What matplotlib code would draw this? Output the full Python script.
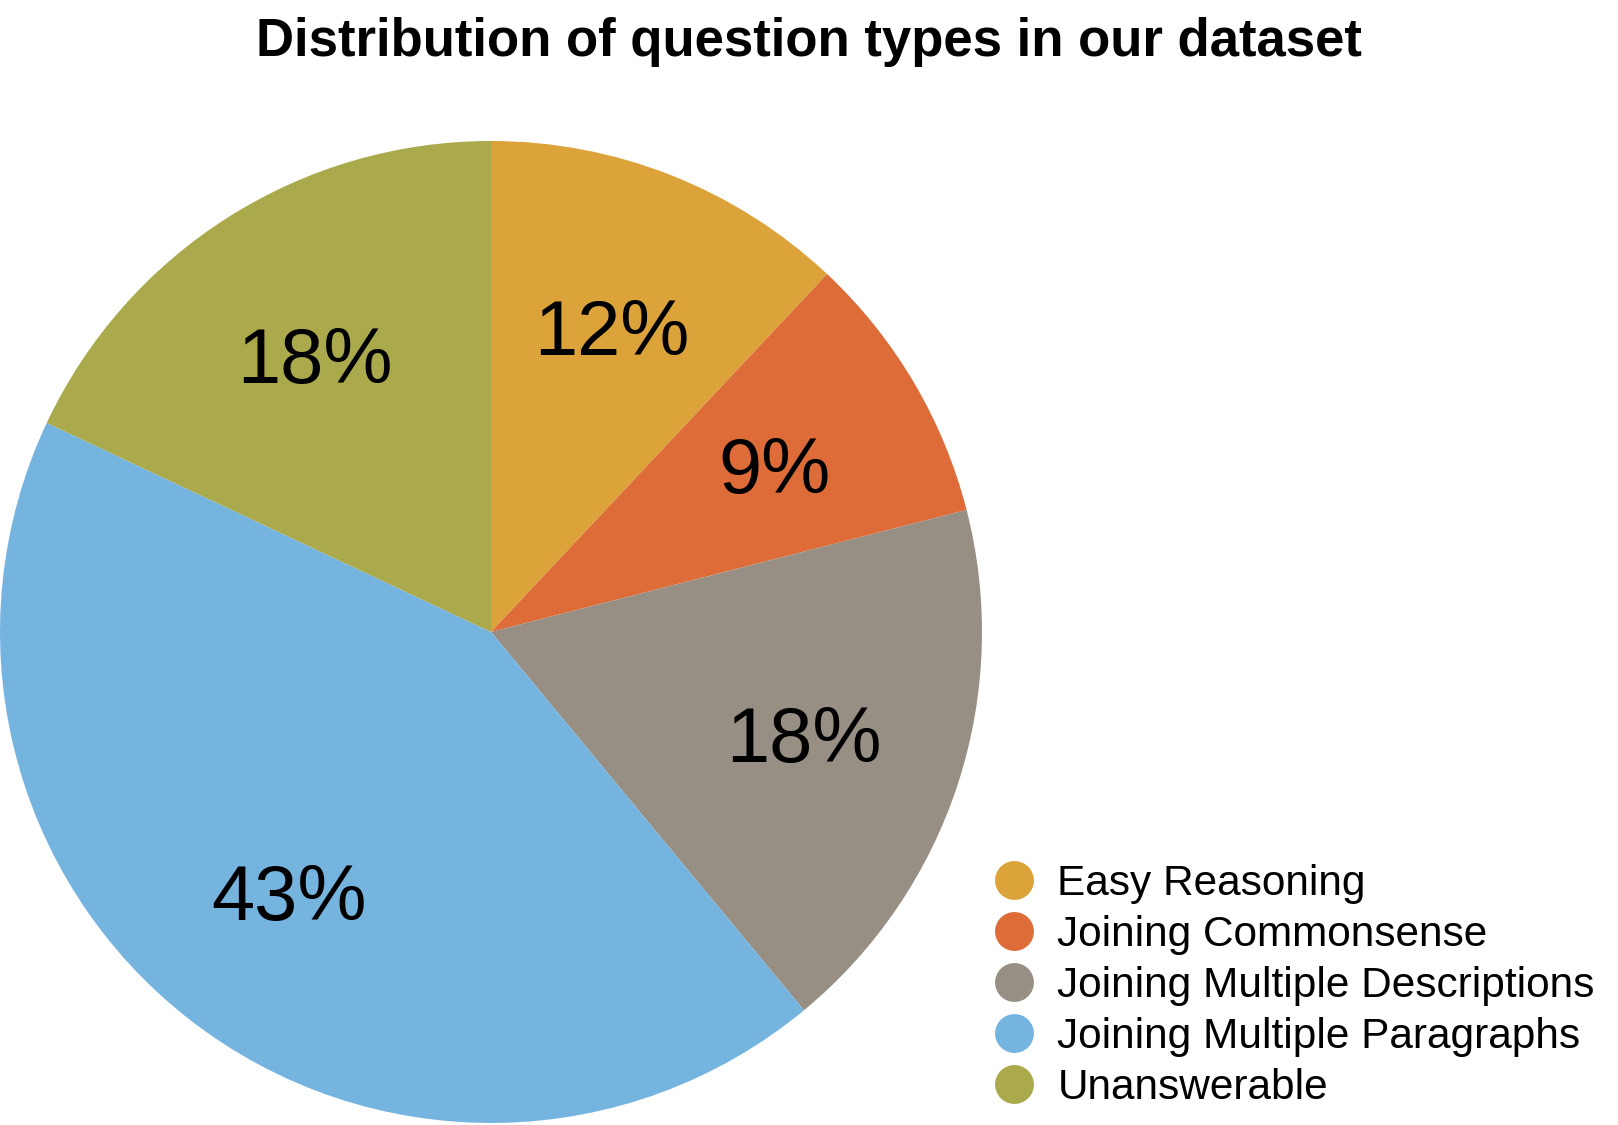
import matplotlib.pyplot as plt
from matplotlib.lines import Line2D

plt.rcParams['font.family'] = ['Liberation Sans', 'DejaVu Sans']

categories = ['Easy Reasoning', 'Joining Commonsense', 'Joining Multiple Descriptions',
              'Joining Multiple Paragraphs', 'Unanswerable']
shares = [12, 9, 18, 43, 18]
colors = ['#DBA339', '#DD6C38', '#978F84', '#76B4E0', '#AAAA4C']


def main():
    fig = plt.figure(figsize=(16.18, 11.25), dpi=100)
    ax = fig.add_axes([0.0, 0.0018, 982 / 1618, 982 / 1125])

    ax.pie(shares, colors=colors, startangle=90, counterclock=False,
           autopct='%d%%', pctdistance=0.67,
           textprops={'fontsize': 56, 'color': 'black',
                      'verticalalignment': 'center_baseline'},
           wedgeprops={'linewidth': 0})
    ax.set_xlim(-1, 1)
    ax.set_ylim(-1, 1)
    ax.set_aspect('equal')

    fig.suptitle('Distribution of question types in our dataset',
                 fontsize=38, fontweight='bold', y=0.985)

    handles = [Line2D([], [], marker='o', linestyle='', markersize=28,
                      markerfacecolor=c, markeredgecolor='none') for c in colors]
    fig.legend(handles, categories, loc='center left',
               bbox_to_anchor=(0.598, 0.1235), frameon=False,
               fontsize=30.5, labelspacing=0.26, handletextpad=0.42,
               borderpad=0, handlelength=1.2)

    fig.savefig('out.png', dpi=100)


if __name__ == "__main__":
    main()
